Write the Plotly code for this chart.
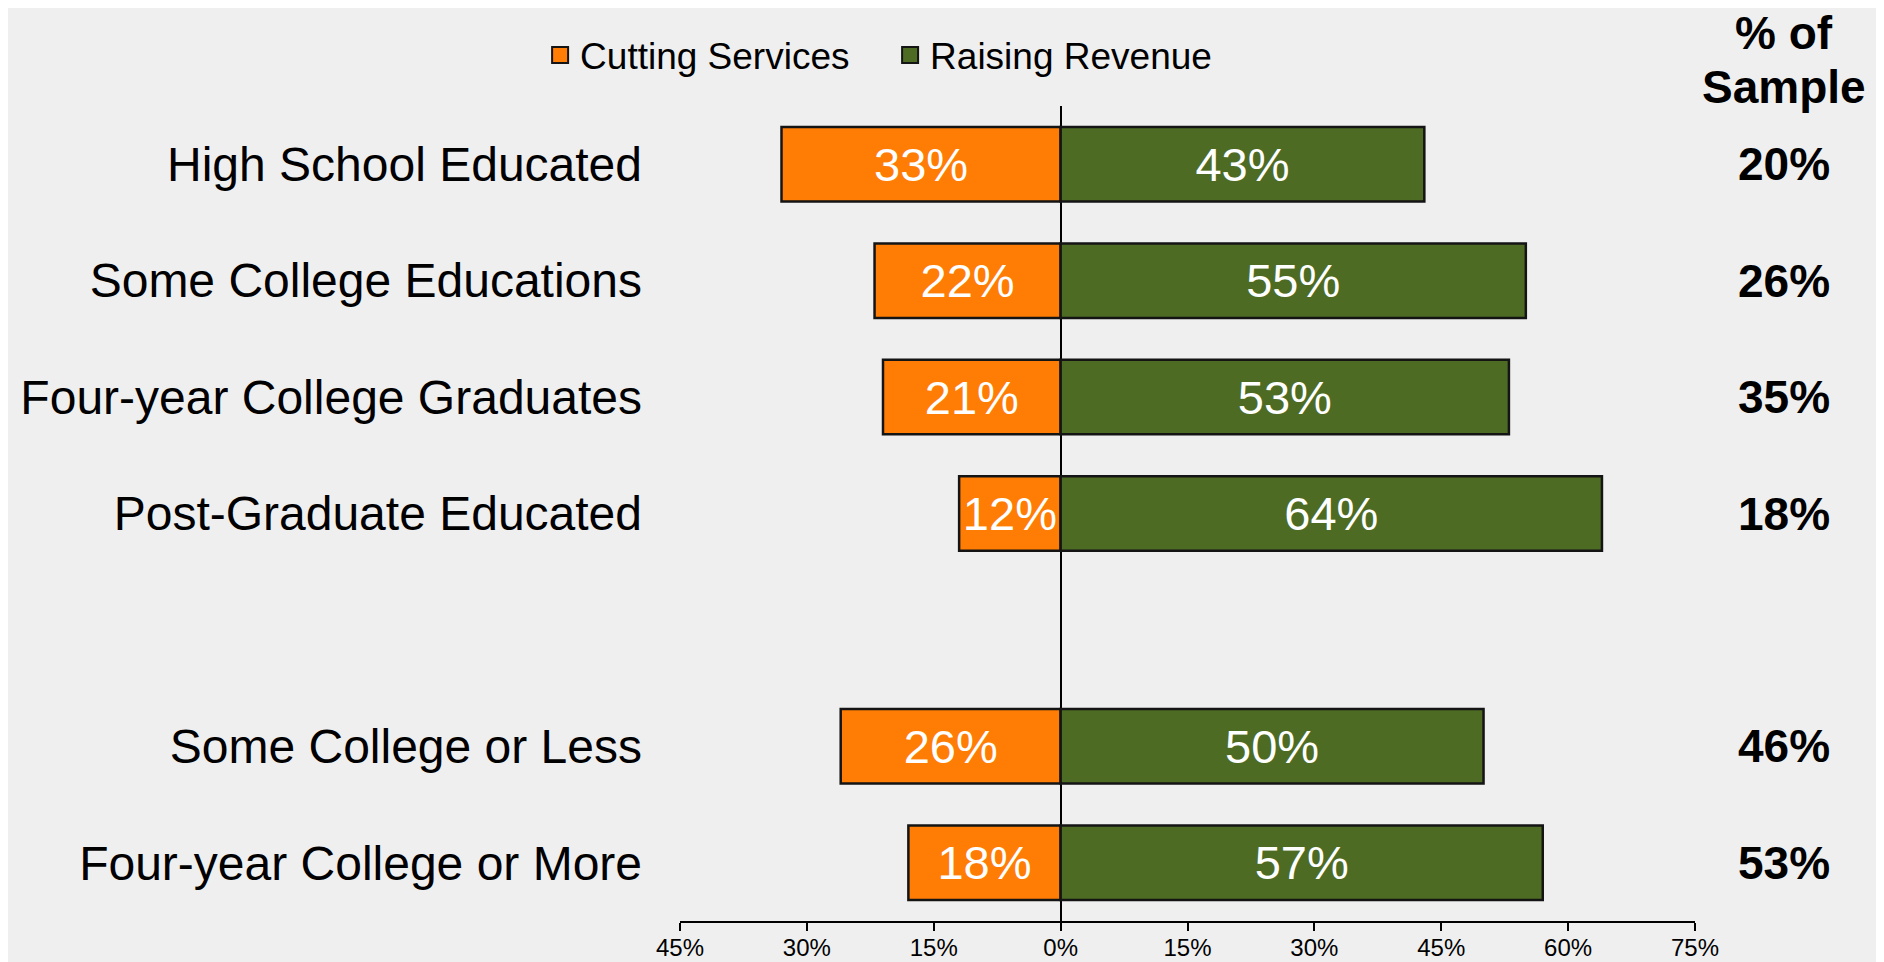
import plotly.graph_objects as go

categories = [
    "High School Educated",
    "Some College Educations",
    "Four-year College Graduates",
    "Post-Graduate Educated",
    " ",
    "Some College or Less",
    "Four-year College or More",
]
cutting = [33, 22, 21, 12, None, 26, 18]
raising = [43, 55, 53, 64, None, 50, 57]
sample = ["20%", "26%", "35%", "18%", "", "46%", "53%"]
series_names = ["Cutting Services", "Raising Revenue"]

tick_vals = [-45, -30, -15, 0, 15, 30, 45, 60, 75]
tick_text = ["45%", "30%", "15%", "0%", "15%", "30%", "45%", "60%", "75%"]

ORANGE = "#FF7C05"
GREEN = "#4E6B24"
EDGE = "#141414"
FONT = "Liberation Sans, Arial, sans-serif"

fig = go.Figure()
fig.add_trace(go.Bar(
    name=series_names[0],
    y=categories,
    x=[-v if v is not None else None for v in cutting],
    orientation="h",
    marker=dict(color=ORANGE, line=dict(color=EDGE, width=2.5)),
    text=[f"{v}%" if v is not None else "" for v in cutting],
    textposition="inside",
    insidetextanchor="middle",
    textangle=0,
    textfont=dict(color="white", size=47, family=FONT),
    width=0.64,
    showlegend=False,
))
fig.add_trace(go.Bar(
    name=series_names[1],
    y=categories,
    x=raising,
    orientation="h",
    marker=dict(color=GREEN, line=dict(color=EDGE, width=2.5)),
    text=[f"{v}%" if v is not None else "" for v in raising],
    textposition="inside",
    insidetextanchor="middle",
    textangle=0,
    textfont=dict(color="white", size=47, family=FONT),
    width=0.64,
    showlegend=False,
))

# legend-only entries with larger square swatches
for name, col in zip(series_names, [ORANGE, GREEN]):
    fig.add_trace(go.Scatter(
        name=name, x=[None], y=[None], mode="markers",
        marker=dict(symbol="square", size=16, color=col, line=dict(color=EDGE, width=2)),
        showlegend=True,
    ))

# right-hand "% of Sample" column
fig.add_annotation(text="<b>% of</b>", xref="paper", yref="paper", x=1.0877, y=1.089,
                   showarrow=False, xanchor="center", yanchor="middle",
                   font=dict(size=46, color="black", family=FONT))
fig.add_annotation(text="<b>Sample</b>", xref="paper", yref="paper", x=1.0877, y=1.023,
                   showarrow=False, xanchor="center", yanchor="middle",
                   font=dict(size=46, color="black", family=FONT))
for cat, s in zip(categories, sample):
    if s:
        fig.add_annotation(text=f"<b>{s}</b>", xref="paper", yref="y", x=1.0877, y=cat,
                           showarrow=False, xanchor="center", yanchor="middle",
                           font=dict(size=46, color="black", family=FONT))

fig.update_layout(
    width=1876, height=954,
    margin=dict(l=672, r=189, t=98, b=41, autoexpand=False),
    paper_bgcolor="#EFEFEF",
    plot_bgcolor="#EFEFEF",
    barmode="relative",
    font=dict(family=FONT, color="black"),
    showlegend=True,
    legend=dict(
        orientation="h",
        x=0.207, y=1.062, xanchor="center", yanchor="middle",
        font=dict(size=37, color="black", family=FONT),
        bgcolor="rgba(0,0,0,0)",
        itemwidth=30,
        itemsizing="trace",
        entrywidth=305,
    ),
    xaxis=dict(
        range=[-45, 75],
        tickvals=tick_vals,
        ticktext=tick_text,
        tickfont=dict(size=24, color="black", family=FONT),
        showgrid=False,
        zeroline=True, zerolinecolor="black", zerolinewidth=1.5,
        showline=True, linecolor="black", linewidth=1.5,
        ticks="outside", ticklen=8, tickcolor="black", tickwidth=1.5,
        ticklabelstandoff=-4,
        automargin=False,
    ),
    yaxis=dict(
        type="category",
        categoryorder="array",
        categoryarray=categories,
        range=[6.5, -0.5],
        tickfont=dict(size=48, color="black", family=FONT),
        showgrid=False, zeroline=False, showline=False,
        ticks="", ticklabelstandoff=37,
        automargin=False,
    ),
)

fig.write_html("out.html")
